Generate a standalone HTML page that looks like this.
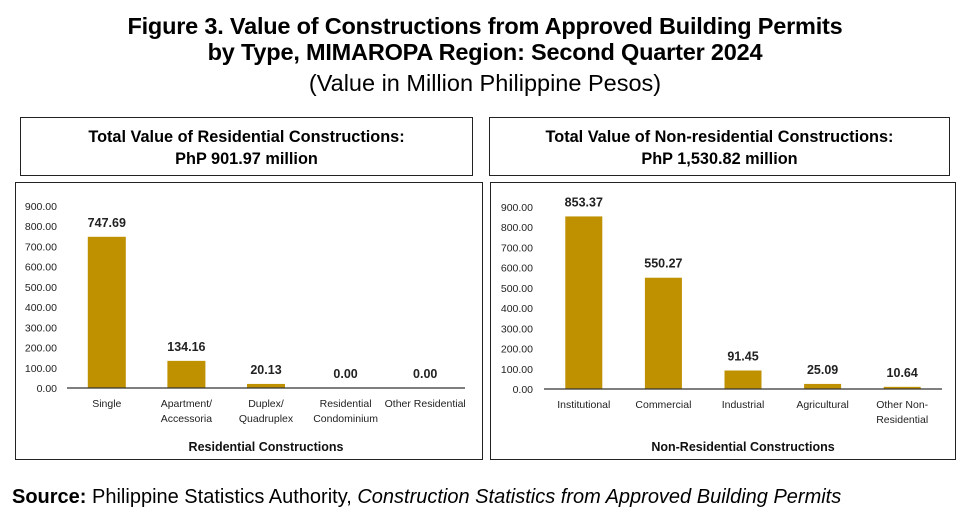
<!DOCTYPE html>
<html><head><meta charset="utf-8"><style>
body{margin:0;width:970px;height:523px;background:#fff;font-family:"Liberation Sans",Arial,sans-serif;position:relative;overflow:hidden}
.t{position:absolute;left:0;width:970px;text-align:center;color:#000}
.box{position:absolute;border:1.5px solid #222;box-sizing:border-box}
</style></head><body>
<div class="t" style="top:13px;font-size:23.5px;font-weight:bold;line-height:26px;letter-spacing:-0.2px">Figure 3. Value of Constructions from Approved Building Permits<br>by Type, MIMAROPA Region: Second Quarter 2024</div>
<div class="t" style="top:70px;font-size:23.5px">(Value in Million Philippine Pesos)</div>
<div class="box" style="left:20px;top:117px;width:453px;height:59px;text-align:center;font-size:16.3px;font-weight:bold;padding-top:8px;line-height:22px">Total Value of Residential Constructions:<br>PhP 901.97 million</div>
<div class="box" style="left:489px;top:117px;width:461px;height:59px;text-align:center;font-size:16.3px;font-weight:bold;padding-top:8px;line-height:22px">Total Value of Non-residential Constructions:<br>PhP 1,530.82 million</div>
<div class="box" style="left:15px;top:182px;width:468px;height:278px"></div>
<div class="box" style="left:490px;top:182px;width:466px;height:278px"></div>
<svg id="svg" width="970" height="523" style="position:absolute;left:0;top:0" font-family="Liberation Sans, Arial, sans-serif"></svg>
<div class="t" style="top:486px;left:12px;text-align:left;font-size:20px"><b>Source:</b> Philippine Statistics Authority, <i>Construction Statistics from Approved Building Permits</i></div>
<script>
const resCategories=[["Single"],["Apartment/","Accessoria"],["Duplex/","Quadruplex"],["Residential","Condominium"],["Other Residential"]];
const resValues=[747.69,134.16,20.13,0.00,0.00];
const nonresCategories=[["Institutional"],["Commercial"],["Industrial"],["Agricultural"],["Other Non-","Residential"]];
const nonresValues=[853.37,550.27,91.45,25.09,10.64];
const yTicks=[0,100,200,300,400,500,600,700,800,900];
const svg=document.getElementById('svg');
const NS='http://www.w3.org/2000/svg';
function mk(tag,attrs,txt){const e=document.createElementNS(NS,tag);for(const k in attrs)e.setAttribute(k,attrs[k]);if(txt!==undefined)e.textContent=txt;svg.appendChild(e);return e;}
function chart(prefix,cats,vals,cfg){
  const y=v=>cfg.y0-(v/900)*(cfg.y0-cfg.y900);
  const x=i=>cfg.x0+cfg.step*(i+0.5);
  yTicks.forEach(t=>{const e=mk('text',{x:cfg.tickX,y:y(t)+4,'text-anchor':'end','font-size':10.5,fill:'#222'},t.toFixed(2));
    
    });
  vals.forEach((v,i)=>{
    const r=mk('rect',{x:x(i)-cfg.bw/2,y:y(v),width:cfg.bw,height:cfg.y0-y(v),fill:'#BF9000'});
    
    
    const l=mk('text',{x:x(i),y:y(v)-10,'text-anchor':'middle','font-size':12.5,'font-weight':'bold',fill:'#222'},v.toFixed(2));
    
    
    cats[i].forEach((s,j)=>{const c=mk('text',{x:x(i),y:cfg.y0+19+j*15,'text-anchor':'middle','font-size':10.5,fill:'#222'},s);
      
      });
  });
  const ax=mk('line',{x1:cfg.x0,x2:cfg.x1,y1:cfg.y0,y2:cfg.y0,stroke:'#333','stroke-width':1.2});
  
  
  const tt=mk('text',{x:(cfg.x0+cfg.x1)/2,y:451,'text-anchor':'middle','font-size':12.5,'font-weight':'bold',fill:'#111'},cfg.title);
  
  
}
chart('residential',resCategories,resValues,{x0:67,x1:465,y0:388,y900:206,step:79.6,bw:38,tickX:57,title:'Residential Constructions'});
chart('nonresidential',nonresCategories,nonresValues,{x0:544,x1:942,y0:389,y900:207,step:79.6,bw:37,tickX:533,title:'Non-Residential Constructions'});
</script>
</body></html>
